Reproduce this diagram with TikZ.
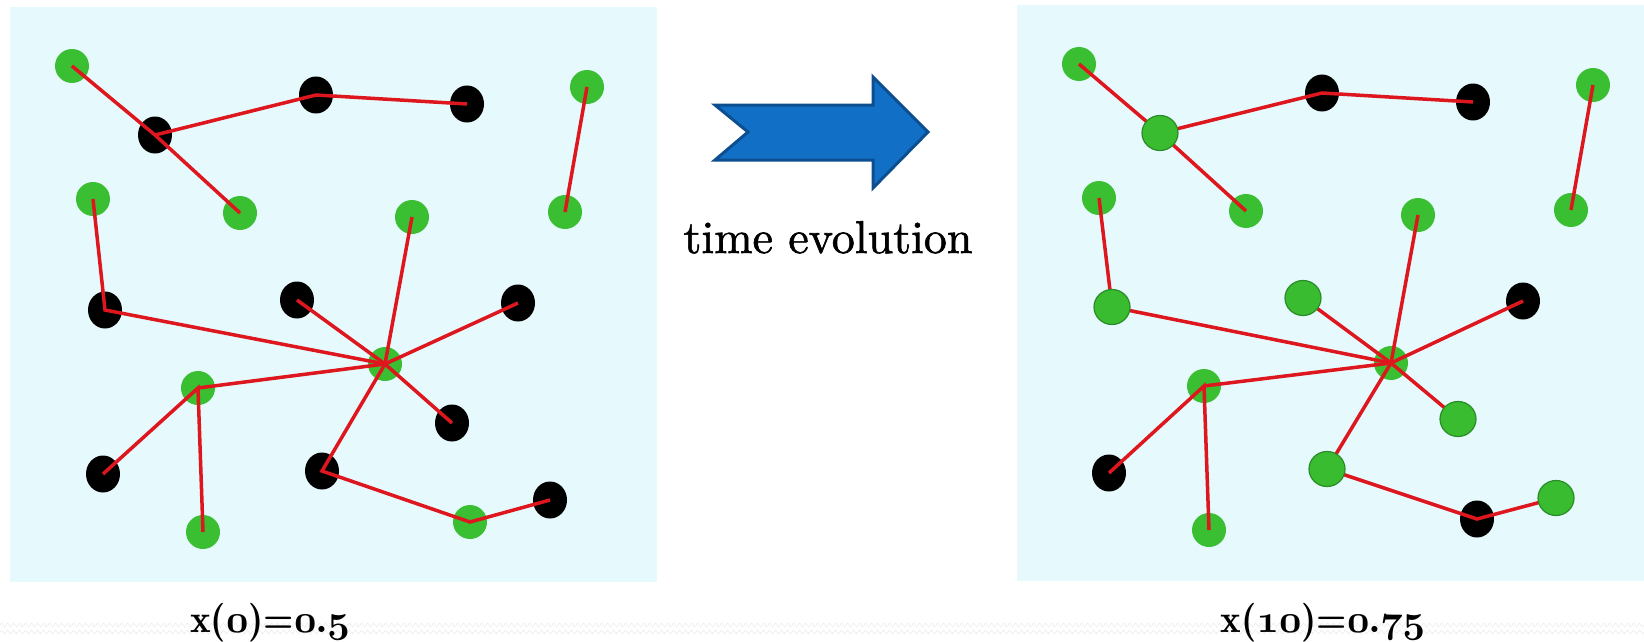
\documentclass[tikz,border=0pt]{standalone}
\usepackage{graphicx}
\usepackage{fontspec}
\newfontfamily\demi{lmromandemi10-regular.otf}
\newfontfamily\medfont{lmroman10-regular.otf}[FakeBold=1.3]
\newcommand\osn[1]{{\usefont{OML}{cmm}{b}{it}#1}}
\usetikzlibrary{shapes.geometric,decorations.pathmorphing}
\definecolor{panelbg}{RGB}{230,249,252}
\definecolor{nodegreen}{RGB}{58,190,50}
\definecolor{newgreen}{RGB}{58,188,48}
\definecolor{newedge}{RGB}{42,140,38}
\definecolor{linkred}{RGB}{222,22,30}
\definecolor{arrowblue}{RGB}{17,112,198}
\definecolor{arrowedge}{RGB}{12,78,144}
\pgfdeclarelayer{back}
\pgfdeclarelayer{low}
\pgfdeclarelayer{top}
\pgfsetlayers{back,low,main,top}
\tikzset{
  gnode/.style={ellipse,fill=nodegreen,minimum width=34pt,minimum height=34pt,inner sep=0pt},
  bnode/.style={ellipse,fill=black,minimum width=34pt,minimum height=37pt,inner sep=0pt},
  nnode/.style={ellipse,fill=newgreen,draw=newedge,line width=1.2pt,minimum width=36pt,minimum height=35pt,inner sep=0pt},
  link/.style={linkred,line width=3.5pt},
  panel/.style={fill=panelbg,draw=none},
  zig/.style={black!7,line width=0.6pt,decorate,decoration={zigzag,amplitude=2pt,segment length=6pt}}
}
\begin{document}
\begin{tikzpicture}[x=1pt,y=-1pt]
\useasboundingbox (0,0) rectangle (1644,642);
\begin{pgfonlayer}{back}
\fill[white] (0,0) rectangle (1644,642);
\draw[zig] (0,625) -- (1644,625);
\draw[zig] (0,632) -- (1644,632);
\node[panel,minimum width=647pt,minimum height=575pt,inner sep=0pt,anchor=north west] (lp) at (10,7) {};
\node[panel,minimum width=627pt,minimum height=576pt,inner sep=0pt,anchor=north west] (rp) at (1017,5) {};
\end{pgfonlayer}

% ---------- left network ----------
\begin{pgfonlayer}{low}
\node[gnode] (a1) at (72,66) {};
\node[bnode] (a2) at (155,135) {};
\node[bnode] (a3) at (316,95) {};
\node[bnode] (a4) at (467,104) {};
\node[gnode] (a5) at (587,87) {};
\node[gnode] (a6) at (93,199) {};
\node[gnode] (a7) at (240,213) {};
\node[gnode] (a8) at (412,217) {};
\node[gnode] (a9) at (565,212) {};
\node[bnode] (a10) at (105,310) {};
\node[bnode] (a11) at (297,300) {};
\node[bnode] (a12) at (518,303) {};
\node[gnode] (ah) at (385,364) {};
\node[gnode] (a13) at (198,388) {};
\node[bnode] (a14) at (452,423) {};
\node[bnode] (a15) at (103,474) {};
\node[bnode] (a16) at (322,471) {};
\node[gnode] (a17) at (203,532) {};
\node[gnode] (a18) at (470,522) {};
\node[bnode] (a19) at (550,500) {};
\end{pgfonlayer}
\draw[link] (a1.center) -- (a2.center) -- (a7.center);
\draw[link] (a2.center) -- (a3.center) -- (a4.center);
\draw[link] (a5.center) -- (a9.center);
\draw[link] (a6.center) -- (a10.center) -- (ah.center);
\draw[link] (a11.center) -- (ah.center);
\draw[link] (a8.center) -- (ah.center);
\draw[link] (a12.center) -- (ah.center);
\draw[link] (ah.center) -- (a14.center);
\draw[link] (ah.center) -- (a13.center);
\draw[link] (a15.center) -- (a13.center) -- (a17.center);
\draw[link] (ah.center) -- (a16.center) -- (a18.center) -- (a19.center);

% ---------- right network ----------
\begin{pgfonlayer}{low}
\node[gnode] (b1) at (1079,64) {};
\node[bnode] (b3) at (1322,93) {};
\node[bnode] (b4) at (1473,102) {};
\node[gnode] (b5) at (1593,85) {};
\node[gnode] (b6) at (1099,198) {};
\node[gnode] (b7) at (1246,211) {};
\node[gnode] (b8) at (1418,215) {};
\node[gnode] (b9) at (1571,210) {};
\node[bnode] (b12) at (1523,301) {};
\node[gnode] (bh) at (1391,363) {};
\node[gnode] (b13) at (1204,386) {};
\node[bnode] (b15) at (1109,473) {};
\node[gnode] (b17) at (1209,530) {};
\node[bnode] (b18) at (1477,519) {};
\end{pgfonlayer}
\begin{pgfonlayer}{top}
\node[nnode] (b2) at (1160,133) {};
\node[nnode] (b10) at (1112,307) {};
\node[nnode] (b11) at (1303,298) {};
\node[nnode] (b14) at (1458,419) {};
\node[nnode] (b16) at (1327,469) {};
\node[nnode] (b19) at (1556,498) {};
\end{pgfonlayer}
\draw[link] (b1.center) -- (b2.center) -- (b7.center);
\draw[link] (b2.center) -- (b3.center) -- (b4.center);
\draw[link] (b5.center) -- (b9.center);
\draw[link] (b6.center) -- (b10.center) -- (bh.center);
\draw[link] (b11.center) -- (bh.center);
\draw[link] (b8.center) -- (bh.center);
\draw[link] (b12.center) -- (bh.center);
\draw[link] (bh.center) -- (b14.center);
\draw[link] (bh.center) -- (b13.center);
\draw[link] (b15.center) -- (b13.center) -- (b17.center);
\draw[link] (bh.center) -- (b16.center) -- (b18.center) -- (b19.center);

% ---------- arrow ----------
\draw[fill=arrowblue,draw=arrowedge,line width=3pt,line join=miter]
  (715,105) -- (873,105) -- (873,77) -- (928,132) -- (873,188) -- (873,160) -- (715,160) -- (748,132) -- cycle;
\node[anchor=base,inner sep=0pt,font=\medfont\fontsize{46}{50}\selectfont] (te) at (828,253) {time evolution};

% ---------- labels ----------
\node[anchor=base,inner sep=0pt] (l1) at (270,632) {\scalebox{3.9}{\demi x(\osn{0})=\osn{0}.\osn{5}}};
\node[anchor=base,inner sep=0pt] (l2) at (1323,632) {\scalebox{3.9}{\demi x(\osn{10})=\osn{0}.\osn{75}}};
\end{tikzpicture}
\end{document}
